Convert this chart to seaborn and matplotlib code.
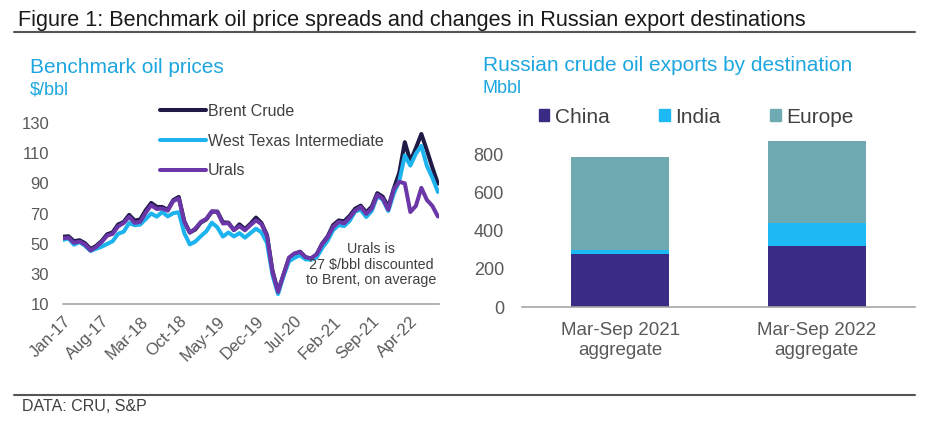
import matplotlib
matplotlib.use("Agg")
import matplotlib.pyplot as plt
from matplotlib.lines import Line2D
from matplotlib.patches import Patch
import seaborn as sns
import pandas as pd

# Monthly benchmark prices, Jan-17 to Sep-22 ($/bbl)
brent = [54.6, 54.9, 51.6, 52.3, 50.3, 46.4, 48.5, 51.7, 56.2, 57.5, 62.7, 64.4,
         69.1, 65.3, 66.0, 72.1, 77.0, 74.4, 74.3, 72.5, 78.9, 81.0, 64.8, 57.4,
         59.4, 64.0, 66.1, 71.2, 71.3, 64.2, 63.9, 59.0, 62.8, 59.7, 63.2, 67.3,
         63.7, 55.7, 32.0, 18.4, 29.4, 40.3, 43.2, 44.7, 40.9, 40.2, 42.7, 50.0,
         54.8, 62.3, 65.4, 64.8, 68.5, 73.2, 75.2, 70.8, 74.5, 83.5, 81.1, 74.2,
         86.5, 97.1, 117.3, 104.6, 113.3, 122.7, 111.9, 100.5, 89.8]
wti = [52.5, 53.5, 49.3, 51.1, 48.5, 45.2, 46.6, 48.0, 49.8, 51.6, 56.6, 57.9,
       63.7, 62.2, 62.7, 66.3, 70.0, 67.9, 71.0, 68.1, 70.2, 70.8, 57.0, 49.5,
       51.4, 55.0, 58.2, 63.9, 60.8, 54.7, 57.4, 54.8, 57.0, 54.0, 57.0, 59.9,
       57.5, 50.5, 29.2, 16.6, 28.6, 38.3, 40.7, 42.3, 39.6, 39.4, 40.9, 47.0,
       52.0, 59.0, 62.3, 61.7, 65.2, 71.4, 72.5, 67.7, 71.7, 81.5, 79.2, 71.7,
       83.2, 91.6, 108.5, 101.8, 109.6, 114.8, 101.6, 93.7, 84.3]
urals = [53.6, 54.0, 50.6, 51.4, 49.5, 45.5, 47.8, 51.0, 55.3, 56.5, 61.5, 63.7,
         67.8, 63.8, 64.5, 70.5, 75.5, 73.0, 73.3, 71.9, 78.3, 80.0, 64.5, 57.4,
         60.0, 64.4, 66.5, 71.5, 71.0, 63.4, 63.6, 59.0, 61.6, 58.9, 62.3, 65.5,
         63.0, 55.0, 31.0, 18.0, 29.5, 40.8, 43.6, 44.5, 41.0, 40.3, 42.9, 49.6,
         54.2, 61.0, 64.4, 63.5, 67.3, 72.0, 74.3, 69.8, 73.3, 82.4, 79.8, 72.6,
         86.0, 91.0, 90.0, 71.0, 75.0, 87.0, 79.0, 75.0, 68.0]
tick_labels = ["Jan-17", "Aug-17", "Mar-18", "Oct-18", "May-19",
               "Dec-19", "Jul-20", "Feb-21", "Sep-21", "Apr-22"]

# Russian crude exports by destination (Mbbl)
periods = ["Mar-Sep 2021\naggregate", "Mar-Sep 2022\naggregate"]
china = [277, 320]
india = [22, 123]
europe = [488, 427]

W, H = 926, 426
c_brent, c_wti, c_urals = "#1E1A45", "#1DB3EE", "#6B36A8"
c_china, c_india, c_europe = "#3A2B85", "#1DB9F5", "#6FA9B1"
c_title = "#1DA6DF"
grey = "#595959"

sns.set_style("white")
plt.rcParams["font.family"] = ["Liberation Sans", "DejaVu Sans"]

fig = plt.figure(figsize=(W / 100, H / 100), dpi=100)


def fx(px):
    return px / W


def fy(py):
    return 1 - py / H


# header / footer
fig.text(fx(18), fy(26), "Figure 1: Benchmark oil price spreads and changes in Russian export destinations",
         fontsize=15.6, color="#1A1A1A", va="baseline")
fig.add_artist(Line2D([fx(14), fx(915)], [fy(32), fy(32)], color="#555555", lw=1.5))
fig.add_artist(Line2D([fx(14), fx(915)], [fy(395), fy(395)], color="#555555", lw=1.5))
fig.text(fx(22), fy(411), "DATA: CRU, S&P", fontsize=11.5, color="#404040", va="baseline")

# ---- left: benchmark prices
ax1 = fig.add_axes([fx(63), fy(304), fx(439 - 63), (304 - 123) / H])
df = pd.DataFrame({"month": range(len(brent)), "Brent Crude": brent,
                   "West Texas Intermediate": wti, "Urals": urals})
for name, col in [("Brent Crude", c_brent), ("West Texas Intermediate", c_wti), ("Urals", c_urals)]:
    sns.lineplot(data=df, x="month", y=name, color=col, lw=2.9, label=name, ax=ax1)

ax1.set_xlim(0, 68.2)
ax1.set_ylim(10, 130)
ax1.set_yticks(range(10, 131, 20))
ax1.set_xticks(range(0, 7 * len(tick_labels), 7))
ax1.set_xticklabels(tick_labels, rotation=45, ha="right", rotation_mode="anchor")
ax1.set_xlabel("")
ax1.set_ylabel("")
for s in ["top", "right", "left"]:
    ax1.spines[s].set_visible(False)
ax1.spines["bottom"].set_color("#A6A6A6")
ax1.spines["bottom"].set_linewidth(1.2)
ax1.tick_params(axis="y", length=0, labelsize=12, labelcolor=grey, pad=10)
ax1.tick_params(axis="x", length=4, width=1, color="#A6A6A6", labelsize=12, labelcolor=grey, pad=3, direction="out")
ax1.legend(loc="upper left", bbox_to_anchor=(fx(160), fy(104)), bbox_transform=fig.transFigure,
           frameon=False, fontsize=11.5, handlelength=2.9, handletextpad=0.1, labelspacing=0.92,
           borderpad=0, borderaxespad=0, labelcolor="#404040")

fig.text(fx(30), fy(73), "Benchmark oil prices", fontsize=15, color=c_title, va="baseline")
fig.text(fx(30), fy(94), "$/bbl", fontsize=13, color=c_title, va="baseline")
fig.text(fx(371), fy(284), "Urals is\n27 $/bbl discounted\nto Brent, on average",
         fontsize=10.3, color="#404040", ha="center", va="baseline", linespacing=1.12)

# ---- right: stacked exports
ax2 = fig.add_axes([fx(522), fy(307), fx(915 - 522), (307 - 135.5) / H])
bars = pd.DataFrame({"period": periods, "China": china, "India": india, "Europe": europe})
bars["ci"] = bars["China"] + bars["India"]
bars["total"] = bars["ci"] + bars["Europe"]
for col, c in [("total", c_europe), ("ci", c_india), ("China", c_china)]:
    sns.barplot(data=bars, x="period", y=col, color=c, width=0.5, saturation=1,
                linewidth=0, edgecolor=c, ax=ax2)
ax2.set_xlim(-0.5, 1.5)
ax2.set_ylim(0, 900)
ax2.set_yticks(range(0, 801, 200))
ax2.set_xlabel("")
ax2.set_ylabel("")
for s in ["top", "right", "left"]:
    ax2.spines[s].set_visible(False)
ax2.spines["bottom"].set_color("#A6A6A6")
ax2.spines["bottom"].set_linewidth(1.2)
ax2.set_xticks([-0.5, 0.5, 1.5], minor=True)
ax2.tick_params(axis="x", which="minor", length=5, width=1, color="#A6A6A6", direction="out")
ax2.tick_params(axis="x", which="major", length=0, labelsize=13.5, labelcolor=grey, pad=11)
ax2.tick_params(axis="y", length=0, labelsize=13, labelcolor=grey, pad=13)

handles = [Patch(color=c_china, label="China"), Patch(color=c_india, label="India"),
           Patch(color=c_europe, label="Europe")]
fig.legend(handles=handles, loc="center left", bbox_to_anchor=(fx(539), fy(117)), ncol=3,
           frameon=False, fontsize=15, handlelength=0.5, handleheight=0.5, handletextpad=0.25,
           columnspacing=2.4, borderpad=0, borderaxespad=0, labelcolor="#404040")

fig.text(fx(483), fy(71), "Russian crude oil exports by destination", fontsize=15, color=c_title, va="baseline")
fig.text(fx(483), fy(93), "Mbbl", fontsize=13, color=c_title, va="baseline")

fig.savefig("out.png", dpi=100)
